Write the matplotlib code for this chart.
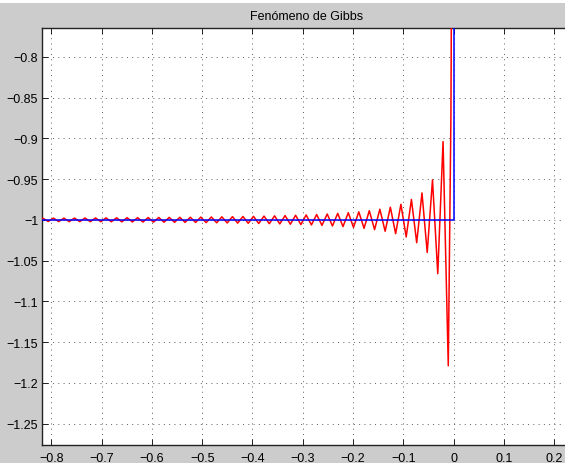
import matplotlib
matplotlib.use("Agg")
import matplotlib.pyplot as plt
from matplotlib.patches import Rectangle

plt.rcParams['font.family'] = ['Liberation Sans', 'DejaVu Sans']
plt.rcParams['lines.scale_dashes'] = False

# Extremum positions of the red partial-sum curve, left to right
red_x = [-0.8273, -0.8168, -0.8063, -0.7959, -0.7854, -0.7749, -0.7645, -0.7540, -0.7435, -0.7330,
         -0.7226, -0.7121, -0.7016, -0.6912, -0.6807, -0.6702, -0.6597, -0.6493, -0.6388, -0.6283,
         -0.6178, -0.6074, -0.5969, -0.5864, -0.5760, -0.5655, -0.5550, -0.5445, -0.5341, -0.5236,
         -0.5131, -0.5027, -0.4922, -0.4817, -0.4712, -0.4608, -0.4503, -0.4398, -0.4294, -0.4189,
         -0.4084, -0.3979, -0.3875, -0.3770, -0.3665, -0.3560, -0.3456, -0.3351, -0.3246, -0.3142,
         -0.3037, -0.2932, -0.2827, -0.2723, -0.2618, -0.2513, -0.2409, -0.2304, -0.2199, -0.2094,
         -0.1990, -0.1885, -0.1780, -0.1676, -0.1571, -0.1466, -0.1361, -0.1257, -0.1152, -0.1047,
         -0.0942, -0.0838, -0.0733, -0.0628, -0.0524, -0.0419, -0.0314, -0.0209, -0.0105,
         -0.0052, -0.0035, 0.0]
red_y = [-1.0020, -0.9980, -1.0020, -0.9979, -1.0021, -0.9979, -1.0022, -0.9978, -1.0022, -0.9977,
         -1.0023, -0.9977, -1.0023, -0.9976, -1.0024, -0.9975, -1.0025, -0.9974, -1.0026, -0.9973,
         -1.0027, -0.9972, -1.0028, -0.9971, -1.0029, -0.9970, -1.0030, -0.9969, -1.0031, -0.9968,
         -1.0032, -0.9966, -1.0034, -0.9965, -1.0036, -0.9963, -1.0038, -0.9961, -1.0040, -0.9959,
         -1.0042, -0.9957, -1.0045, -0.9954, -1.0047, -0.9951, -1.0050, -0.9948, -1.0054, -0.9944,
         -1.0058, -0.9940, -1.0062, -0.9935, -1.0068, -0.9929, -1.0075, -0.9921, -1.0083, -0.9913,
         -1.0092, -0.9902, -1.0104, -0.9888, -1.0120, -0.9870, -1.0140, -0.9845, -1.0170, -0.9810,
         -1.0210, -0.9750, -1.0280, -0.9670, -1.0400, -0.9510, -1.0660, -0.9040, -1.1790,
         -0.8700, -0.6200, 0.0]

# Ideal square wave (blue)
blue_x = [-0.83, 0.0, 0.0]
blue_y = [-1.0, -1.0, 1.0]

x_ticks = [-0.8, -0.7, -0.6, -0.5, -0.4, -0.3, -0.2, -0.1, 0.0, 0.1, 0.2]
x_labels = ['\u22120.8', '\u22120.7', '\u22120.6', '\u22120.5', '\u22120.4', '\u22120.3',
            '\u22120.2', '\u22120.1', '0', '0.1', '0.2']
y_ticks = [-0.8, -0.85, -0.9, -0.95, -1.0, -1.05, -1.1, -1.15, -1.2, -1.25]
y_labels = ['\u22120.8', '\u22120.85', '\u22120.9', '\u22120.95', '\u22121', '\u22121.05',
            '\u22121.1', '\u22121.15', '\u22121.2', '\u22121.25']
title = 'Fenómeno de Gibbs'

fig = plt.figure(figsize=(5.65, 4.64), dpi=100, facecolor='#cccccc')
fig.patches.append(Rectangle((0, 1 - 4 / 464), 1, 4 / 464, transform=fig.transFigure,
                             facecolor='white', edgecolor='none', zorder=-1))
ax = fig.add_axes([42.3 / 565, 18.0 / 464, (571.7 - 42.3) / 565, (446 - 28.7) / 464])
ax.set_facecolor('white')

ax.plot(red_x, red_y, color='#ff0000', lw=1.1, zorder=3,
        solid_joinstyle='round', solid_capstyle='round')
ax.plot(blue_x, blue_y, color='#0000ff', lw=1.1, zorder=4)

ax.set_xlim(-0.818, 0.235)
ax.set_ylim(-1.2761, -0.7644)
ax.set_xticks(x_ticks)
ax.set_xticklabels(x_labels)
ax.set_yticks(y_ticks)
ax.set_yticklabels(y_labels)

ax.tick_params(direction='in', length=4.5, width=0.6, top=True, right=True,
               labelsize=9, pad=5, colors='black')
ax.tick_params(axis='y', pad=3)
for s in ax.spines.values():
    s.set_linewidth(1.0)
    s.set_color('#222222')

ax.grid(True, color='#444444', linewidth=0.6, linestyle=(0, (0.7, 3.1)), zorder=1)
ax.set_axisbelow(True)

ax.set_title(title, fontsize=9, pad=6)

fig.savefig('out.png', dpi=100, facecolor=fig.get_facecolor())
